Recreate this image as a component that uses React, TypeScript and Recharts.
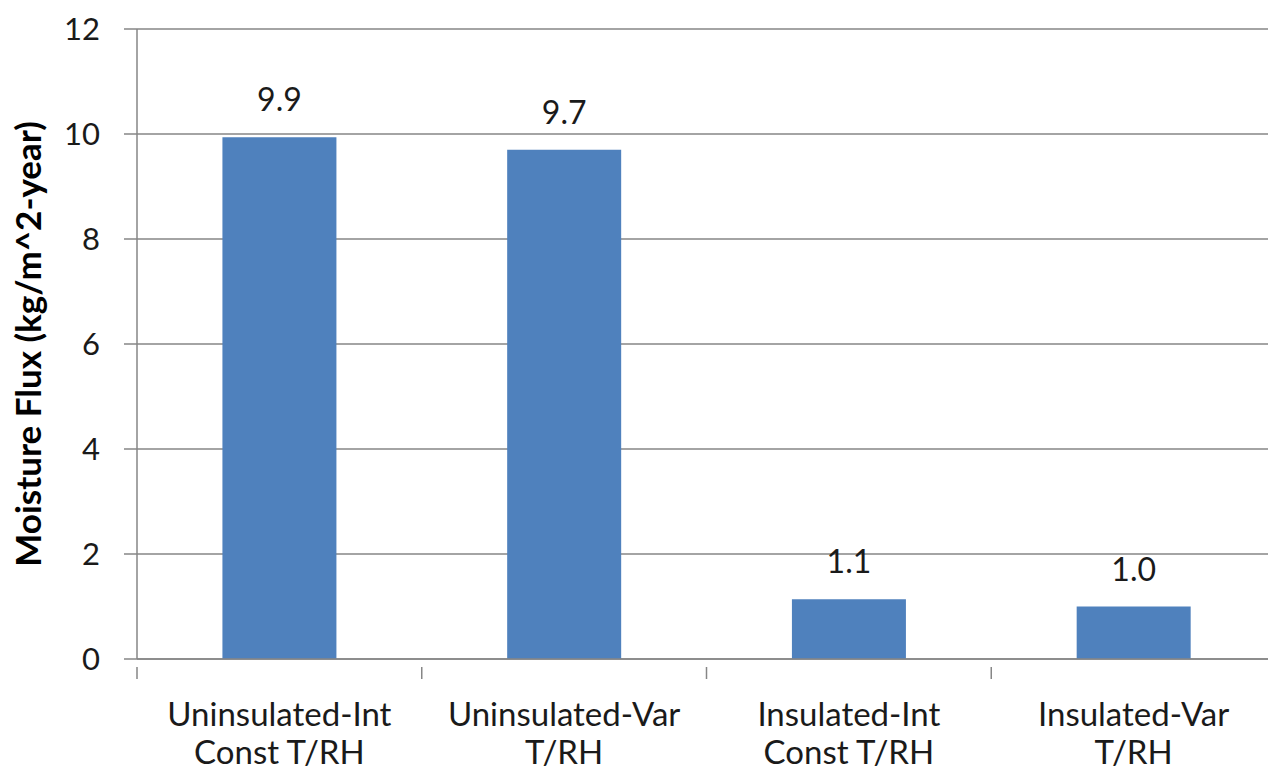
import React from 'react';
import { BarChart, Bar, XAxis, YAxis, CartesianGrid, LabelList } from 'recharts';

// Moisture flux per case (kg/m^2-year)
const categories = [
  ['Uninsulated-Int', 'Const T/RH'],
  ['Uninsulated-Var', 'T/RH'],
  ['Insulated-Int', 'Const T/RH'],
  ['Insulated-Var', 'T/RH'],
];
const fluxValues = [9.94, 9.7, 1.14, 1.0];
const yTicks = [0, 2, 4, 6, 8, 10, 12];

const data = categories.map((lines, i) => ({
  name: lines.join(' '),
  lines,
  flux: fluxValues[i],
}));

const FONT = 'Lato, "Open Sans", sans-serif';
const GRAY = '#868686';

const CategoryTick = (props: any) => {
  const { x, y, payload, index } = props;
  const half = payload?.offset ?? 142.4;
  const lines: string[] = data[index]?.lines ?? [String(payload.value)];
  return (
    <g>
      <line x1={x - half} y1={y} x2={x - half} y2={y + 12} stroke={GRAY} strokeWidth={1.5} />
      {index === data.length - 1 && (
        <line x1={x + half} y1={y} x2={x + half} y2={y + 12} stroke={GRAY} strokeWidth={1.5} />
      )}
      {lines.map((l, i) => (
        <text
          key={i}
          x={x}
          y={y + 59 + i * 38}
          textAnchor="middle"
          fontSize={33}
          fontFamily={FONT}
          fill="#1a1a1a"
        >
          {l}
        </text>
      ))}
    </g>
  );
};

export default function App() {
  return (
    <div style={{ position: 'absolute', left: 0, top: 0, width: 1268, height: 768, overflow: 'hidden', background: '#fff' }}>
      <BarChart
        width={1280}
        height={768}
        data={data}
        margin={{ top: 29, right: 4, bottom: 0, left: 0 }}
        barCategoryGap="30%"
      >
        <CartesianGrid vertical={false} stroke={GRAY} strokeWidth={1.5} />
        <XAxis
          dataKey="name"
          height={109}
          axisLine={{ stroke: GRAY, strokeWidth: 1.5 }}
          tickLine={false}
          tick={<CategoryTick />}
          interval={0}
        />
        <YAxis
          width={137}
          domain={[0, 12]}
          ticks={yTicks}
          interval={0}
          axisLine={{ stroke: GRAY, strokeWidth: 1.5 }}
          tickLine={{ stroke: GRAY, strokeWidth: 1.5 }}
          tickSize={13}
          tickMargin={24}
          tick={{ fontSize: 31, fontFamily: FONT, fill: '#1a1a1a' }}
          label={{
            value: 'Moisture Flux (kg/m^2-year)',
            angle: -90,
            position: 'insideLeft',
            offset: 29,
            style: { fontSize: 35, fontWeight: 700, fontFamily: FONT, fill: '#000', textAnchor: 'middle' },
          }}
        />
        <Bar dataKey="flux" fill="#4F81BD" isAnimationActive={false}>
          <LabelList
            dataKey="flux"
            position="top"
            offset={26}
            formatter={(v: any) => Number(v).toFixed(1)}
            style={{ fontSize: 32, fontFamily: FONT, fill: '#1a1a1a' }}
          />
        </Bar>
      </BarChart>
    </div>
  );
}
